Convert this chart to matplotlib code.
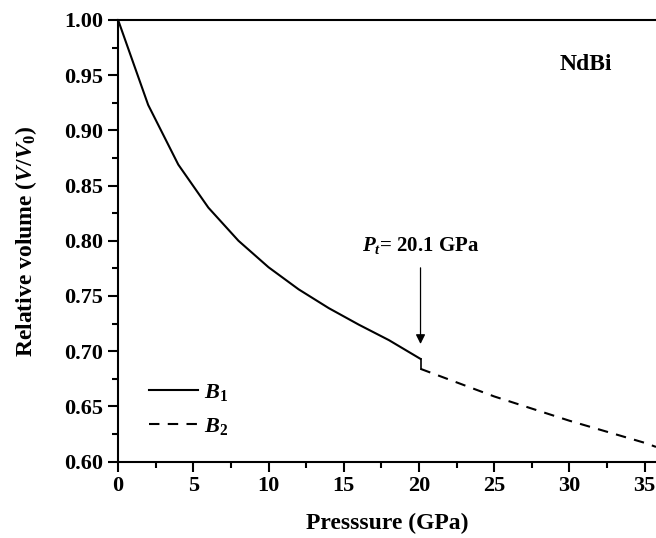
import matplotlib
matplotlib.use("Agg")
import matplotlib.pyplot as plt
from matplotlib.ticker import MultipleLocator, FormatStrFormatter

plt.rcParams['font.family'] = 'Liberation Serif'
plt.rcParams['font.weight'] = 'bold'
plt.rcParams['axes.labelweight'] = 'bold'
plt.rcParams['mathtext.fontset'] = 'custom'
plt.rcParams['mathtext.rm'] = 'Liberation Serif:bold'
plt.rcParams['mathtext.it'] = 'Liberation Serif:bold:italic'
plt.rcParams['mathtext.bf'] = 'Liberation Serif:bold'

# B1 phase (below transition)
p_b1 = [0, 2, 4, 6, 8, 10, 12, 14, 16, 18, 20.1]
v_b1 = [1.000, 0.923, 0.869, 0.830, 0.800, 0.776, 0.756, 0.739, 0.724, 0.710, 0.693]
# B2 phase (above transition)
p_b2 = [20.1, 25, 30, 35, 35.75]
v_b2 = [0.684, 0.659, 0.637, 0.617, 0.6133]
p_t = 20.1

fig = plt.figure(figsize=(6.56, 5.38), dpi=100)
ax = fig.add_axes([0.18, 0.142, 0.82, 0.821])

ax.plot(p_b1, v_b1, color='black', lw=1.5, label=r'$B_{\mathit{1}}$')
ax.plot([p_t, p_t], [v_b1[-1], v_b2[0]], color='black', lw=1.2)
ax.plot(p_b2, v_b2, color='black', lw=1.5, ls=(0, (5, 4)), label=r'$B_{\mathit{2}}$')

ax.annotate('', xy=(p_t, 0.704), xytext=(p_t, 0.778),
            arrowprops=dict(arrowstyle='-|>', color='black', lw=0.9,
                            mutation_scale=14))
ax.text(p_t, 0.786, r'$P_t$= 20.1 GPa', ha='center', va='bottom', fontsize=15)
ax.text(31.1, 0.960, 'NdBi', ha='center', va='center', fontsize=17)

ax.set_xlim(0, 35.75)
ax.set_ylim(0.60, 1.00)
ax.xaxis.set_major_locator(MultipleLocator(5))
ax.xaxis.set_minor_locator(MultipleLocator(2.5))
ax.yaxis.set_major_locator(MultipleLocator(0.05))
ax.yaxis.set_minor_locator(MultipleLocator(0.025))
ax.yaxis.set_major_formatter(FormatStrFormatter('%.2f'))
ax.tick_params(which='major', direction='out', length=7, width=1.5, labelsize=16)
ax.tick_params(which='minor', direction='out', length=4, width=1.5)
ax.tick_params(top=False, right=False)
for s in ['left', 'bottom', 'top']:
    ax.spines[s].set_linewidth(1.5)
ax.spines['right'].set_visible(False)

ax.set_xlabel('Presssure (GPa)', fontsize=17, labelpad=12)
ax.set_ylabel(r'Relative volume ($V/V_{\mathit{0}}$)', fontsize=17, labelpad=18)

ax.legend(loc='lower left', bbox_to_anchor=(0.02, 0.01), frameon=False,
          fontsize=16, handlelength=2.2, handletextpad=0.3, labelspacing=0.6)

fig.savefig('out.png', dpi=100)
